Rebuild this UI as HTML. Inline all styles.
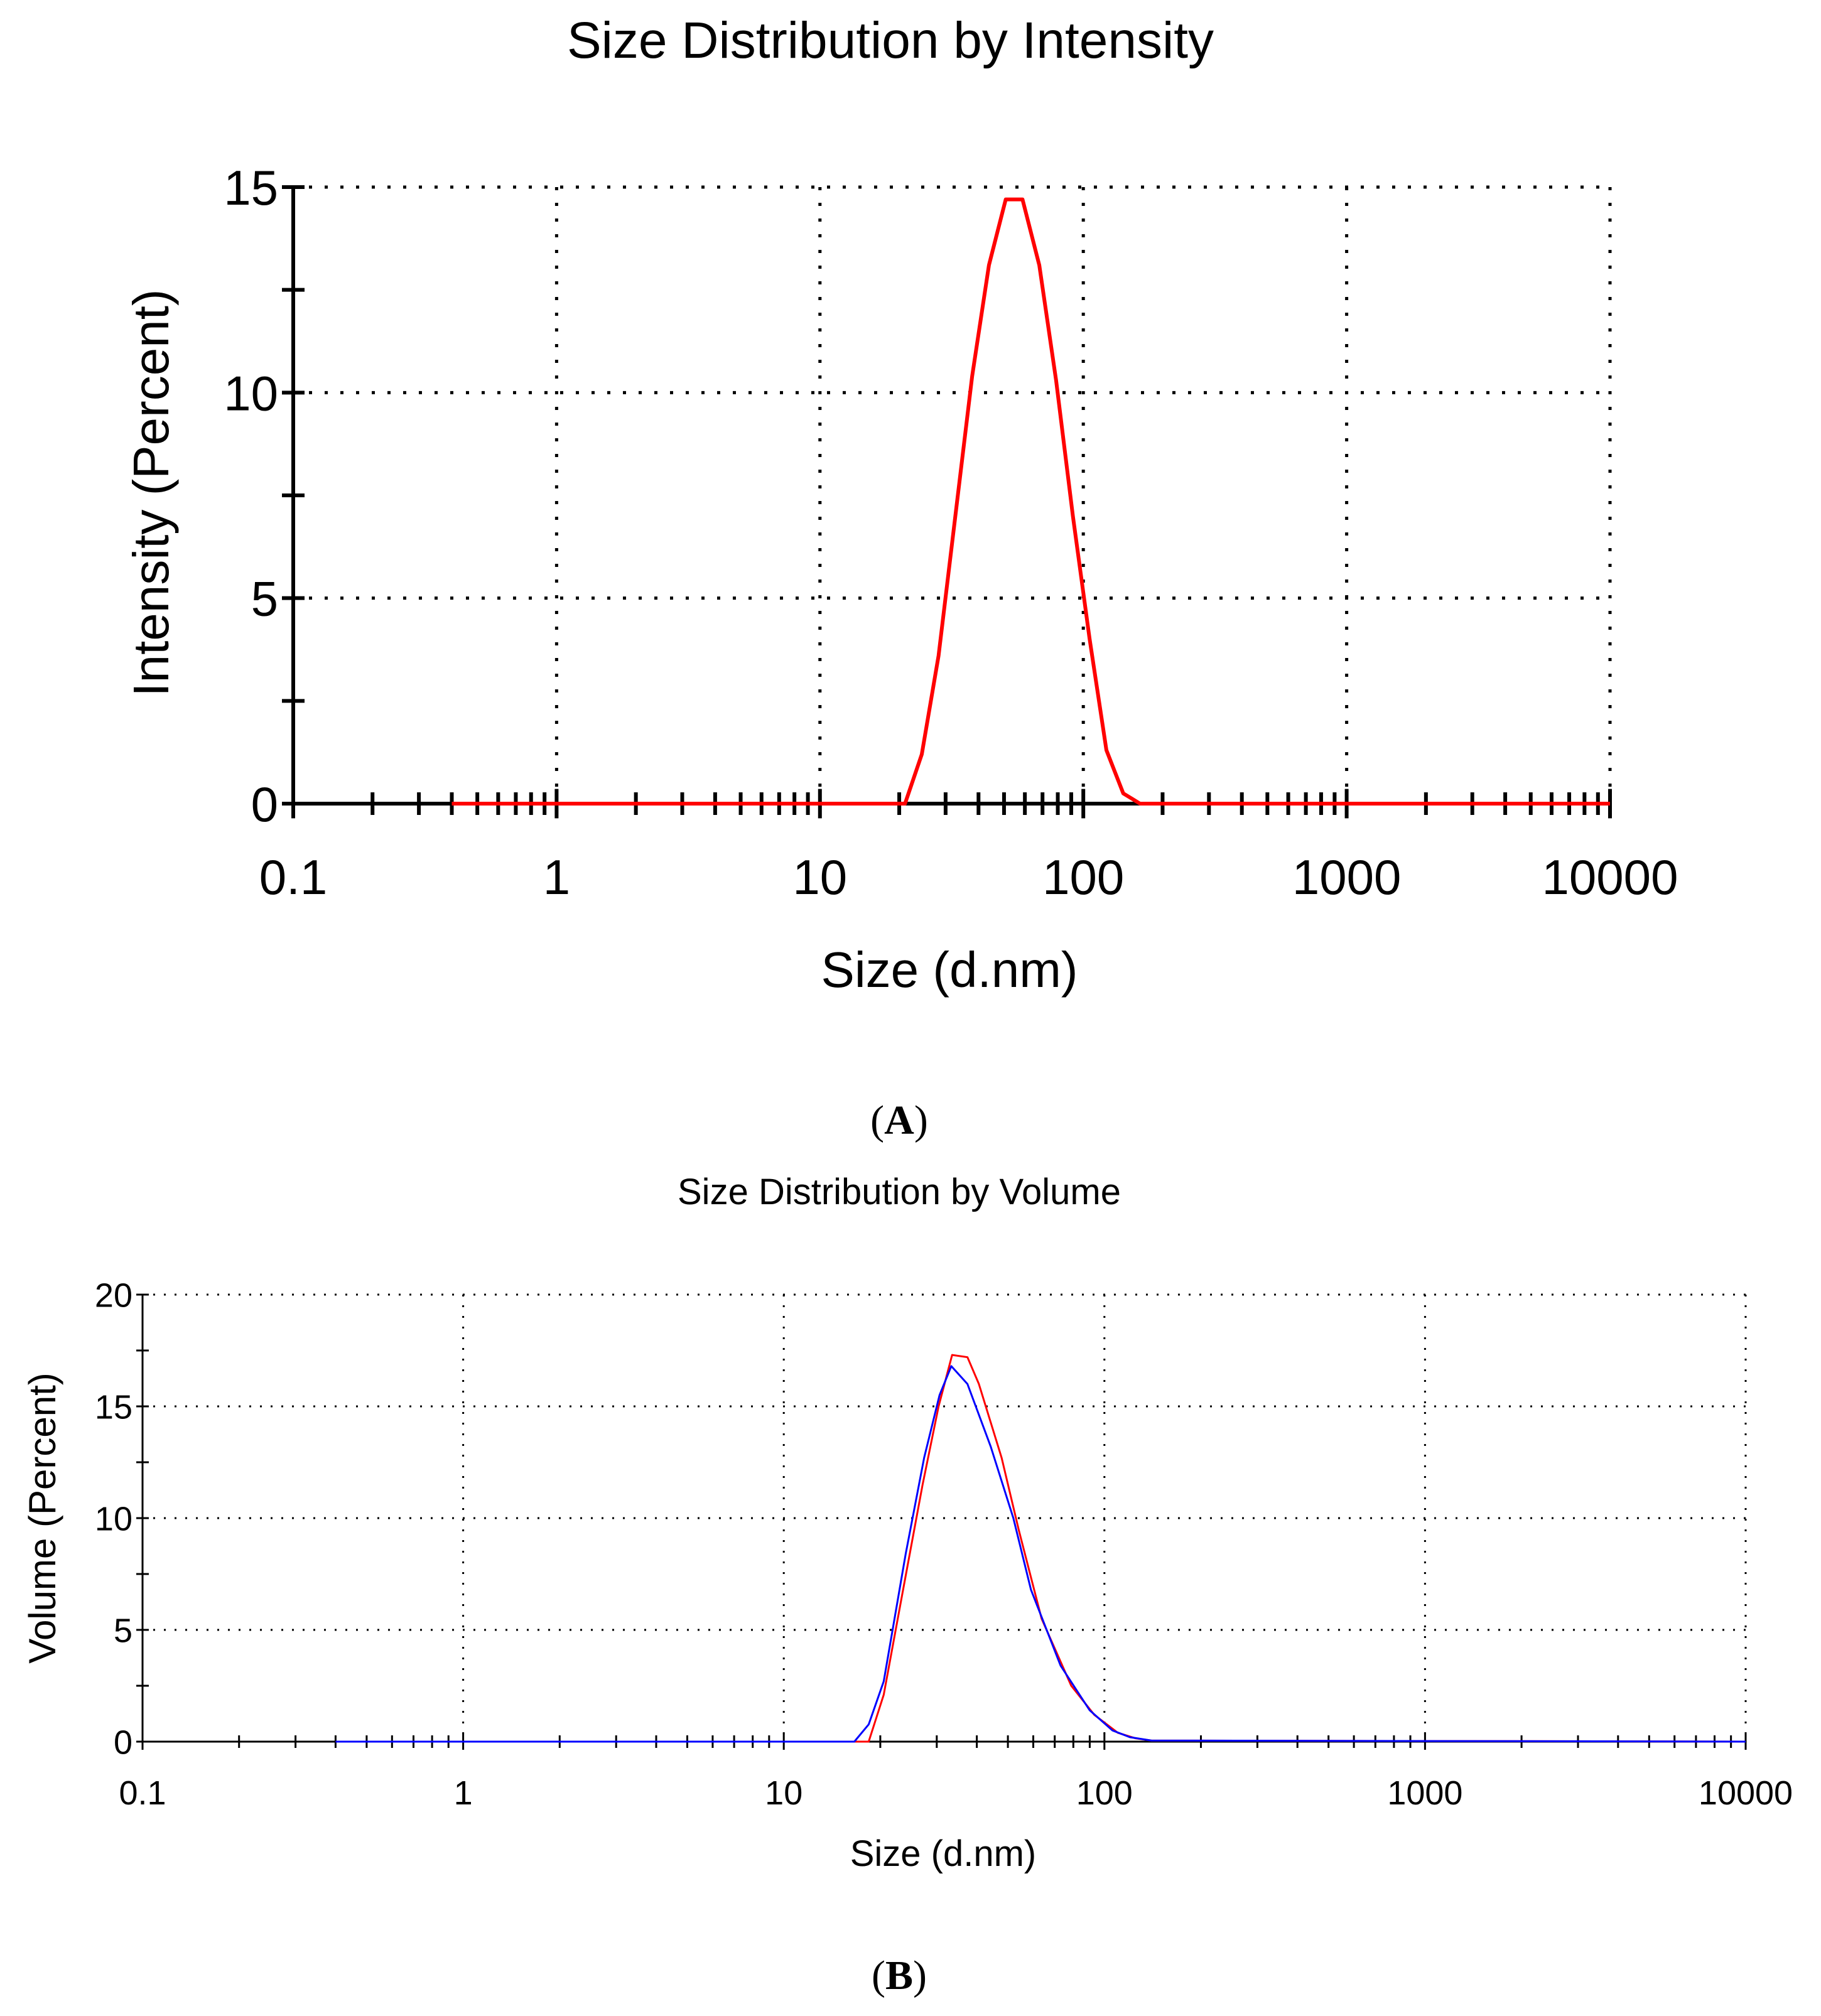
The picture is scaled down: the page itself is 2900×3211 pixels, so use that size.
<!DOCTYPE html>
<html><head><meta charset="utf-8"><style>
body{margin:0;background:#fff;}
svg{display:block;font-family:"Liberation Sans",Arial,sans-serif;}
</style></head><body>
<svg id="svg" width="2900" height="3211" viewBox="0 0 2900 3211">
<text x="1418" y="92" font-size="82" text-anchor="middle">Size Distribution by Intensity</text>
<text transform="translate(268,785) rotate(-90)" font-size="80" text-anchor="middle">Intensity (Percent)</text>
<text x="1512" y="1572" font-size="80" text-anchor="middle">Size (d.nm)</text>
<text x="1432" y="1806" font-size="66" text-anchor="middle" font-family="Liberation Serif,serif">(<tspan font-weight="bold">A</tspan>)</text>
<text x="1432" y="1918" font-size="58" text-anchor="middle">Size Distribution by Volume</text>
<text transform="translate(88,2418) rotate(-90)" font-size="60" text-anchor="middle">Volume (Percent)</text>
<text x="1502" y="2972" font-size="58" text-anchor="middle">Size (d.nm)</text>
<text x="1432" y="3168" font-size="66" text-anchor="middle" font-family="Liberation Serif,serif">(<tspan font-weight="bold">B</tspan>)</text>
</svg>
<script>
const xTickLabels = ["0.1","1","10","100","1000","10000"];
const aSizes = [0.4, 21.04, 24.36, 28.21, 32.67, 37.84, 43.82, 50.75, 58.77, 68.06, 78.82, 91.28, 105.7, 122.4, 141.8, 164.2, 10000];
const aIntensity = [0, 0, 1.2, 3.6, 7.0, 10.4, 13.1, 14.7, 14.7, 13.1, 10.3, 7.0, 4.0, 1.3, 0.25, 0, 0];
const aYTicks = [0, 5, 10, 15];
const bRedSizes = [0.4, 18.4, 20.5, 23.7, 27.1, 30.4, 33.5, 37.4, 40.6, 47.8, 54, 63.7, 78.8, 93, 110, 125, 140, 10000];
const bRedVolume = [0, 0, 2.1, 7.0, 11.5, 15.0, 17.3, 17.2, 16.0, 12.7, 9.5, 5.5, 2.5, 1.2, 0.4, 0.15, 0.05, 0];
const bBlueSizes = [0.4, 16.6, 18.4, 20.5, 24, 27.4, 30.6, 33.3, 37.4, 44.2, 52, 59, 73, 90, 106, 120, 140, 10000];
const bBlueVolume = [0, 0, 0.77, 2.7, 8.4, 12.7, 15.5, 16.8, 16.0, 13.2, 10.0, 6.8, 3.4, 1.4, 0.5, 0.2, 0.05, 0];
const bYTicks = [0, 5, 10, 15, 20];

const NS = "http://www.w3.org/2000/svg";
const svg = document.getElementById('svg');
function mk(tag, attrs){const e=document.createElementNS(NS,tag);for(const k in attrs)e.setAttribute(k,attrs[k]);svg.appendChild(e);return e;}

function chart(o){
  const sx = v => o.x0 + (Math.log10(v)+1)/5*(o.x1-o.x0);
  const sy = v => o.y0 - v/o.ymax*(o.y0-o.y1);
  for(let d=1; d<=5; d++){
    const x = o.x0 + d/5*(o.x1-o.x0);
    const g = mk('line',{x1:x,y1:o.y1,x2:x,y2:o.y0,stroke:'#000','stroke-width':o.gw,'stroke-dasharray':o.dash});
    
    
  }
  o.yTicks.forEach(t=>{
    if(t>0){
      const g = mk('line',{x1:o.x0,y1:sy(t),x2:o.x1,y2:sy(t),stroke:'#000','stroke-width':o.gw,'stroke-dasharray':o.dash});
      
      
    }
    const tk = mk('line',{x1:o.x0-o.tl,y1:sy(t),x2:o.x0+o.tl,y2:sy(t),stroke:'#000','stroke-width':o.aw});
    
    
    const lb = mk('text',{x:o.x0-o.tl-6,y:sy(t)+o.fs*0.36,'font-size':o.fs,'text-anchor':'end'});
    lb.textContent = t;
    
    
    const mt = t + o.ymax/(o.yTicks.length-1)/2;
    if(mt<o.ymax){
      const m = mk('line',{x1:o.x0-o.tl,y1:sy(mt),x2:o.x0+o.tl,y2:sy(mt),stroke:'#000','stroke-width':o.aw});
      
      
    }
  });
  for(let d=0; d<5; d++){
    for(let k=2;k<=9;k++){
      const x = sx(Math.pow(10,d-1)*k);
      const m = mk('line',{x1:x,y1:o.y0-o.tl,x2:x,y2:o.y0+o.tl,stroke:'#000','stroke-width':o.aw});
      
      
    }
  }
  xTickLabels.forEach((l,i)=>{
    const x = o.x0 + i/5*(o.x1-o.x0);
    const t = mk('line',{x1:x,y1:o.y0-o.tl*1.3,x2:x,y2:o.y0+o.tl*1.3,stroke:'#000','stroke-width':o.aw});
    
    
    const lb = mk('text',{x:x,y:o.ly,'font-size':o.fs,'text-anchor':'middle'});
    lb.textContent = l;
    
    
  });
  const ax = mk('line',{x1:o.x0,y1:o.y1,x2:o.x0,y2:o.y0,stroke:'#000','stroke-width':o.aw});
  
  
  const bx = mk('line',{x1:o.x0,y1:o.y0,x2:o.x1,y2:o.y0,stroke:'#000','stroke-width':o.aw});
  
  
  o.series.forEach(s=>{
    const p = mk('polyline',{points:s.xs.map((v,i)=>sx(v)+','+sy(s.ys[i])).join(' '),fill:'none',stroke:s.color,'stroke-width':s.w,'stroke-linejoin':'round'});
    
    
  });
}
chart({x0:467,x1:2564,y0:1280,y1:298,ymax:15,yTicks:aYTicks,fs:78,ly:1424,tl:18,aw:6,gw:5,dash:'5 20',
  series:[{xs:aSizes,ys:aIntensity,color:'#ff0000',w:6,name:'intensity-line'}]});
chart({x0:227,x1:2780,y0:2774,y1:2062,ymax:20,yTicks:bYTicks,fs:54,ly:2874,tl:10,aw:3,gw:3,dash:'3 14',
  series:[{xs:bRedSizes,ys:bRedVolume,color:'#ff0000',w:3,name:'volume-red-line'},
          {xs:bBlueSizes,ys:bBlueVolume,color:'#0000ff',w:3,name:'volume-blue-line'}]});
</script>
</body></html>
